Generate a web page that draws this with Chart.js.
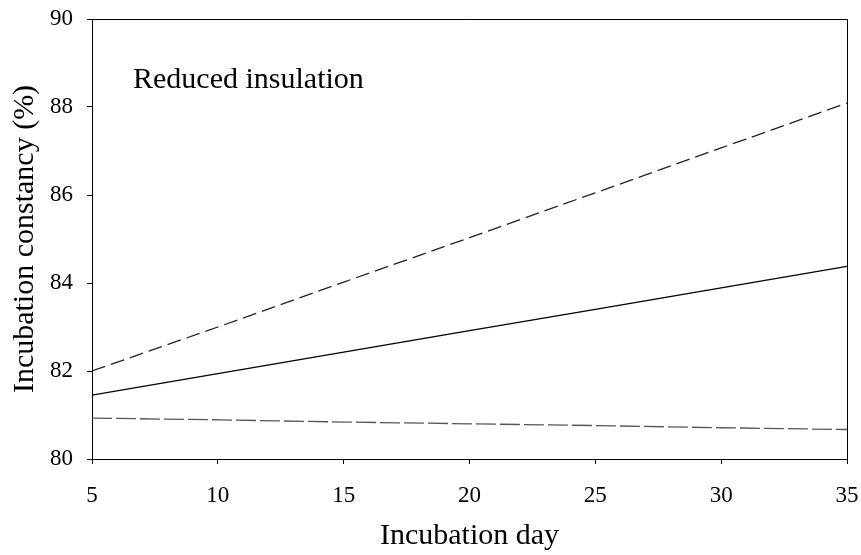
<!DOCTYPE html>
<html>
<head>
<meta charset="utf-8">
<script src="https://cdn.jsdelivr.net/npm/chart.js@4"></script>
<style>
  html, body { margin: 0; padding: 0; background: #fff; }
  #wrap { width: 861px; height: 555px; }
</style>
</head>
<body>
<div id="wrap"><canvas id="grafico" width="861" height="555"></canvas></div>
<script>
// dados
const days = [5, 10, 15, 20, 25, 30, 35];
const fitted = [81.45, 81.94, 82.43, 82.92, 83.40, 83.89, 84.38];
const upperCI = [82.0, 83.0, 84.02, 85.03, 86.05, 87.07, 88.09];
const lowerCI = [80.93, 80.89, 80.84, 80.80, 80.76, 80.71, 80.67];
const yTicks = [80, 82, 84, 86, 88, 90];
const xTicks = [5, 10, 15, 20, 25, 30, 35];
const panelLabel = "Reduced insulation";

const serif = "'Liberation Serif', 'Times New Roman', serif";

function toPoints(ys) {
  return days.map((d, i) => ({ x: d, y: ys[i] }));
}

// moldura e texto do painel
const framePlugin = {
  id: "frame",
  afterDraw(chart) {
    const { ctx, chartArea: a, scales } = chart;
    ctx.save();
    ctx.strokeStyle = "#000";
    ctx.lineWidth = 1;
    ctx.beginPath();
    ctx.moveTo(a.left, a.top + 0.5);
    ctx.lineTo(a.right + 0.5, a.top + 0.5);
    ctx.lineTo(a.right + 0.5, a.bottom);
    ctx.stroke();
    ctx.fillStyle = "#000";
    ctx.font = "30px " + serif;
    ctx.textBaseline = "middle";
    ctx.fillText(panelLabel, scales.x.getPixelForValue(6.63), scales.y.getPixelForValue(88.61));
    ctx.restore();
  }
};

new Chart(document.getElementById("grafico"), {
  type: "line",
  data: {
    datasets: [
      {
        data: toPoints(upperCI),
        borderColor: "#222",
        borderWidth: 1.3,
        borderDash: [14, 6],
        pointRadius: 0,
        fill: false
      },
      {
        data: toPoints(fitted),
        borderColor: "#000",
        borderWidth: 1.3,
        pointRadius: 0,
        fill: false
      },
      {
        data: toPoints(lowerCI),
        borderColor: "#555",
        borderWidth: 1.3,
        borderDash: [20, 4],
        pointRadius: 0,
        fill: false
      }
    ]
  },
  options: {
    responsive: false,
    animation: false,
    layout: { padding: { top: 19, right: 14, bottom: 0, left: 0 } },
    plugins: {
      legend: { display: false },
      tooltip: { enabled: false }
    },
    scales: {
      x: {
        type: "linear",
        min: 5,
        max: 35,
        afterBuildTicks(axis) { axis.ticks = xTicks.map(v => ({ value: v })); },
        afterFit(axis) {
          axis.height = 96;
          axis.paddingLeft = 0;
          axis.paddingRight = 0;
        },
        grid: { drawOnChartArea: false, tickLength: 5, color: "#000" },
        border: { color: "#000", width: 1 },
        ticks: { color: "#000", font: { family: serif, size: 23 }, padding: 18, maxRotation: 0 },
        title: { display: true, text: "Incubation day", color: "#000", font: { family: serif, size: 30 }, padding: { top: 0, bottom: 1 } }
      },
      y: {
        min: 80,
        max: 90,
        afterBuildTicks(axis) { axis.ticks = yTicks.map(v => ({ value: v })); },
        afterFit(axis) {
          axis.width = 92;
          axis.paddingTop = 0;
          axis.paddingBottom = 0;
        },
        grid: { drawOnChartArea: false, tickLength: 5, color: "#000" },
        border: { color: "#000", width: 1 },
        ticks: { color: "#000", font: { family: serif, size: 23 }, padding: 14 },
        title: { display: true, text: "Incubation constancy (%)", color: "#000", font: { family: serif, size: 30 }, padding: { top: 7, bottom: 0 } }
      }
    }
  },
  plugins: [framePlugin]
});
</script>
</body>
</html>
